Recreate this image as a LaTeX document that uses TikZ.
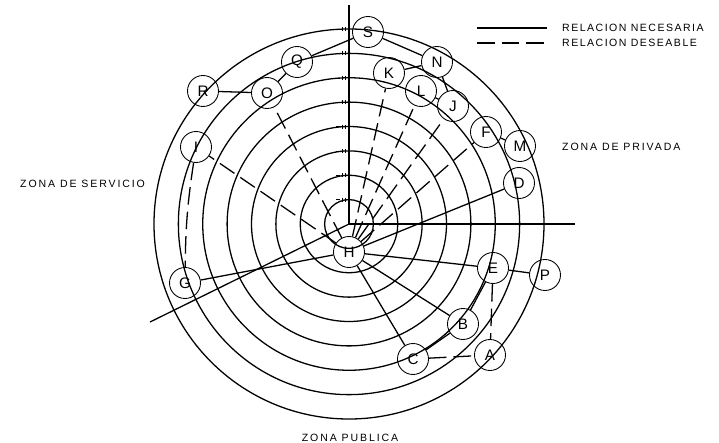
\documentclass[tikz,border=0pt]{standalone}
\usepackage{fontspec}
\setmainfont{Liberation Sans}
\begin{document}
\begin{tikzpicture}[x=0.03cm, y=-0.03cm,
    anillo/.style={line width=1.1pt},
    circ/.style={draw, circle, line width=0.75pt, minimum size=0.93cm, inner sep=0pt, font=\fontsize{13}{13}\selectfont},
    nec/.style={line width=1.1pt},
    des/.style={line width=1.1pt, dash pattern=on 15pt off 6pt},
    zona/.style={font=\fontsize{9}{10}\selectfont\addfontfeature{LetterSpace=18}, inner sep=0pt, anchor=west},
    leyenda/.style={zona, font=\fontsize{9}{10}\selectfont\addfontfeature{LetterSpace=14}}]
  \useasboundingbox (0,0) rectangle (719,443);
  \coordinate (ctr) at (349,224);
  \coordinate (topax) at (349,5);
  \coordinate (rgtax) at (575,224);
  \coordinate (llax) at (150,322);
  % anillos
  \foreach \k in {1,...,8} {
    \draw[anillo] (ctr) circle[radius={\k*0.73125cm}];
    \pgfmathsetmacro{\yy}{224-24.375*\k}
    \draw[thin] (336,\yy) -- (340,\yy) (342,\yy-2) -- (342,\yy+2) (345,\yy-2) -- (345,\yy+2);
  }
  \draw[nec] (ctr) -- (topax);
  \draw[nec] (ctr) -- (rgtax);
  \draw[nec] (ctr) -- (llax);
  % espacios
  \node[circ] (S) at (368,32) {S};
  \node[circ] (Q) at (297,62) {Q};
  \node[circ] (R) at (203,91) {R};
  \node[circ] (O) at (267,93) {O};
  \node[circ] (I) at (196,147) {I};
  \node[circ] (K) at (389,73) {K};
  \node[circ] (N) at (437,62) {N};
  \node[circ] (L) at (421,91) {L};
  \node[circ] (J) at (453,106) {J};
  \node[circ] (F) at (486,132) {F};
  \node[circ] (M) at (520,146) {M};
  \node[circ] (D) at (519,183) {D};
  \node[circ] (G) at (185,283) {G};
  \node[circ] (H) at (349,252) {H};
  \node[circ] (E) at (493,268) {E};
  \node[circ] (P) at (545,275) {P};
  \node[circ] (B) at (463,324) {B};
  \node[circ] (C) at (413,359) {C};
  \node[circ] (A) at (490,355) {A};
  % relaciones
  \draw[nec] (S) -- (Q);
  \draw[nec] (S) -- (N);
  \draw[nec] (K) -- (N);
  \draw[nec] (N) -- (J);
  \draw[nec] (L) -- (J);
  \draw[nec] (F) -- (M);
  \draw[nec] (R) -- (O);
  \draw[nec] (Q) -- (O);
  \draw[nec] (G) -- (H);
  \draw[nec] (H) -- (E);
  \draw[nec] (H) -- (B);
  \draw[nec] (H) -- (C);
  \draw[nec] (H) -- (D);
  \draw[nec] (E) -- (P);
  \draw[nec] (E) -- (B);
  \draw[nec] (B) -- (C);
  \draw[des] (E) -- (A);
  \draw[des] (C) -- (A);
  \draw[des] (I) to[bend right=4] (G);
  \foreach \n in {I,O,K,L,J,F}
    \draw[des] (H) -- (\n);
  % leyenda
  \coordinate (la1) at (477,28);
  \coordinate (la2) at (547,28);
  \coordinate (lb1) at (477,43);
  \coordinate (lb2) at (547,43);
  \draw[nec] (la1) -- (la2);
  \draw[des] (lb1) -- (lb2);
  \node[leyenda] (tnec) at (562,28) {RELACION NECESARIA};
  \node[leyenda] (tdes) at (562,43) {RELACION DESEABLE};
  \node[zona] (zpriv) at (562,147) {ZONA DE PRIVADA};
  \node[zona] (zserv) at (20,184) {ZONA DE SERVICIO};
  \node[zona, anchor=north] (zpub) at (350,434) {ZONA PUBLICA};
\end{tikzpicture}
\end{document}
